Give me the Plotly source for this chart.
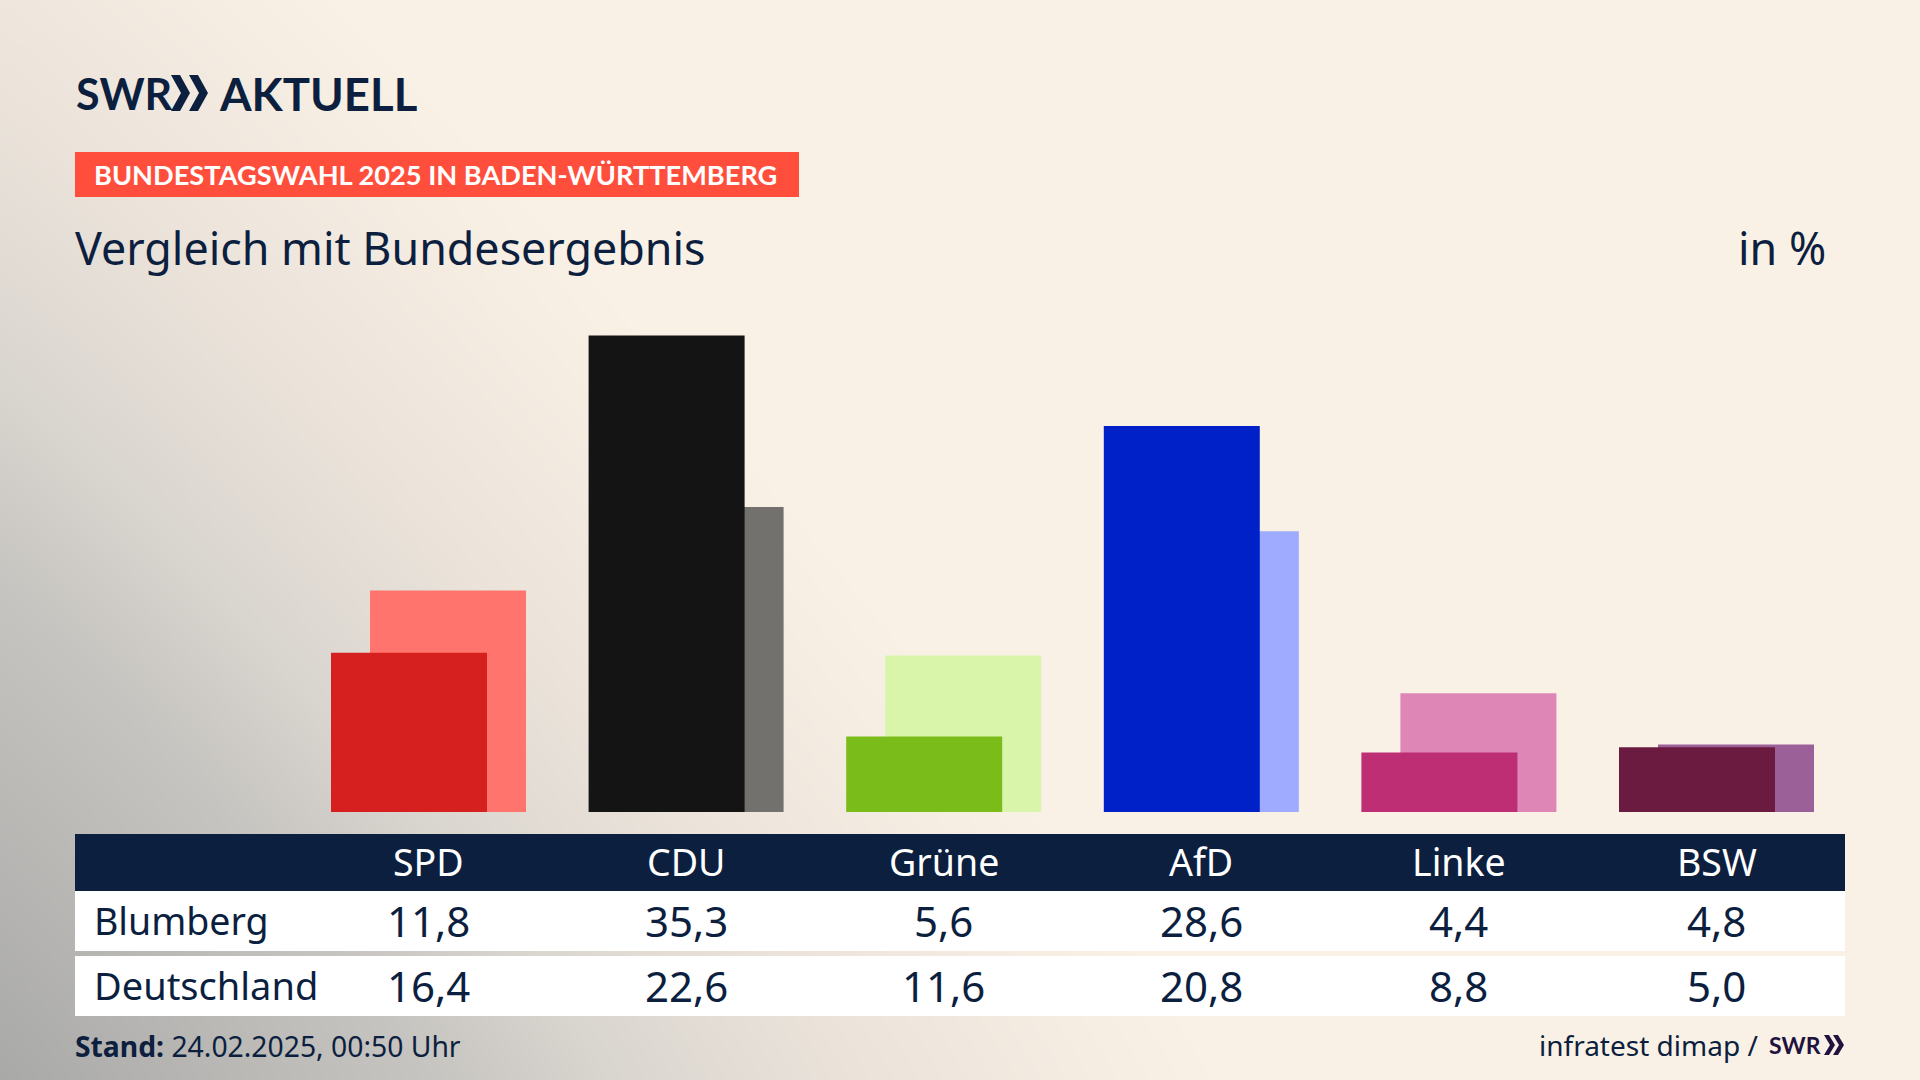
import numpy as np
import pandas as pd
import plotly.graph_objects as go

# Blumberg vs Deutschland, in %
df = pd.DataFrame({
    'party': ['SPD', 'CDU', 'Grüne', 'AfD', 'Linke', 'BSW'],
    'blumberg': [11.8, 35.3, 5.6, 28.6, 4.4, 4.8],
    'deutschland': [16.4, 22.6, 11.6, 20.8, 8.8, 5.0],
    'dark': ['#d6201f', '#141414', '#7abd1a', '#0021c7', '#bd2e75', '#6b1a40'],
    'light': ['#ff756d', '#72716e', '#d8f5aa', '#9eabff', '#de87b6', '#9c6098'],
})

W, H = 1920, 1080
NAVY = '#0c1f3f'
FONT = 'Noto Sans'
LOGO = 'Lato'

def px(x):
    return x / W

def py(y):
    return 1 - y / H

# background glow, bottom left corner
gx = np.arange(0, W + 20, 20)
gy = np.arange(0, H + 20, 20)
xx, yy = np.meshgrid(gx, gy)
glow = np.clip(((xx / 1225) ** 1.1 + ((H - yy) / 1400) ** 1.1) ** (1 / 1.1), 0, 1)

fig = go.Figure()
fig.add_trace(go.Heatmap(x=gx, y=gy, z=glow, zmin=0, zmax=1, zsmooth='best', showscale=False,
                         colorscale=[[0, '#a9a9a8'], [0.35, '#c6c4c0'], [0.5, '#d9d5cf'], [0.7, '#ebe3da'], [1, '#faf1e6']],
                         hoverinfo='skip', xaxis='x', yaxis='y'))

# 257.6 px per party, 13.5 px per percent, baseline at 812
unit = 257.6
xr = [-428.5 / unit, (W - 428.5) / unit]
yr = [-(H - 812) / 13.5, 812 / 13.5]
pos = np.arange(len(df))
shift = 39 / unit

fig.add_trace(go.Bar(x=pos, y=df['deutschland'], marker_color=df['light'], marker_line_width=0,
                     width=156 / unit, offset=-78 / unit + shift / 2, name='Deutschland',
                     xaxis='x2', yaxis='y2'))
fig.add_trace(go.Bar(x=pos, y=df['blumberg'], marker_color=df['dark'], marker_line_width=0,
                     width=156 / unit, offset=-78 / unit - shift / 2, name='Blumberg',
                     xaxis='x2', yaxis='y2'))

shapes = []

def rect(x0, y0, x1, y1, color):
    shapes.append(dict(type='rect', xref='paper', yref='paper', x0=px(x0), x1=px(x1), y0=py(y0), y1=py(y1),
                       fillcolor=color, line_width=0))

def chevrons(x, top, bottom, w, t, gap, color):
    mid = (top + bottom) / 2
    for k in range(2):
        x0 = x + k * gap
        pts = [(x0, top), (x0 + t, top), (x0 + w, mid), (x0 + t, bottom), (x0, bottom), (x0 + w - t, mid)]
        path = 'M' + ' L'.join(f'{px(a):.5f},{py(b):.5f}' for a, b in pts) + ' Z'
        shapes.append(dict(type='path', xref='paper', yref='paper', path=path, fillcolor=color, line_width=0))

rect(75, 152, 799, 197, '#ff4f3c')
rect(75, 834, 1845, 891, NAVY)
rect(75, 891, 1845, 951, 'white')
rect(75, 956, 1845, 1016, 'white')
chevrons(171, 75, 111, 19, 9, 18, NAVY)
chevrons(1824, 1035, 1055, 11, 5, 9, '#22123f')

notes = []

def label(text, x, y, size, color=NAVY, anchor='left', font=FONT, xref='paper'):
    notes.append(dict(text=text, x=px(x) if xref == 'paper' else x, y=py(y), xref=xref, yref='paper',
                      xanchor=anchor, yanchor='middle', showarrow=False,
                      font=dict(family=font, size=size, color=color)))

label('<b>SWR</b>', 74, 93, 43, font=LOGO)
label('<b>AKTUELL</b>', 217, 93, 45.5, font=LOGO)
label('<b>BUNDESTAGSWAHL 2025 IN BADEN-WÜRTTEMBERG</b>', 92, 175, 27.2, color='white', font='Lato')
label('Vergleich mit Bundesergebnis', 73, 247, 44.8)
label('in %', 1828, 247, 44.8, anchor='right')
label('Blumberg', 92, 920, 37.5)
label('Deutschland', 92, 985, 38)
for i, row in df.iterrows():
    label(row['party'], i, 861, 37.5, color='white', anchor='center', xref='x2')
    label(f"{row['blumberg']:.1f}".replace('.', ','), i, 920, 42, anchor='center', xref='x2')
    label(f"{row['deutschland']:.1f}".replace('.', ','), i, 985, 42, anchor='center', xref='x2')
label('<b>Stand:</b> 24.02.2025, 00:50 Uhr', 73, 1046, 28.3)
label('infratest dimap /', 1760, 1045, 28, anchor='right')
label('<b>SWR</b>', 1767, 1045, 23, color='#22123f', font=LOGO)

hidden = dict(visible=False, fixedrange=True)
fig.update_layout(
    width=W, height=H, margin=dict(l=0, r=0, t=0, b=0),
    paper_bgcolor='#faf1e6', plot_bgcolor='rgba(0,0,0,0)',
    showlegend=False, barmode='overlay',
    xaxis=dict(range=[0, W], domain=[0, 1], **hidden),
    yaxis=dict(range=[H, 0], domain=[0, 1], **hidden),
    xaxis2=dict(range=xr, domain=[0, 1], anchor='y2', **hidden),
    yaxis2=dict(range=yr, domain=[0, 1], anchor='x2', **hidden),
    shapes=shapes, annotations=notes,
)

fig.write_html("out.html", config={'displayModeBar': False}, post_script="document.body.style.margin='0';")
